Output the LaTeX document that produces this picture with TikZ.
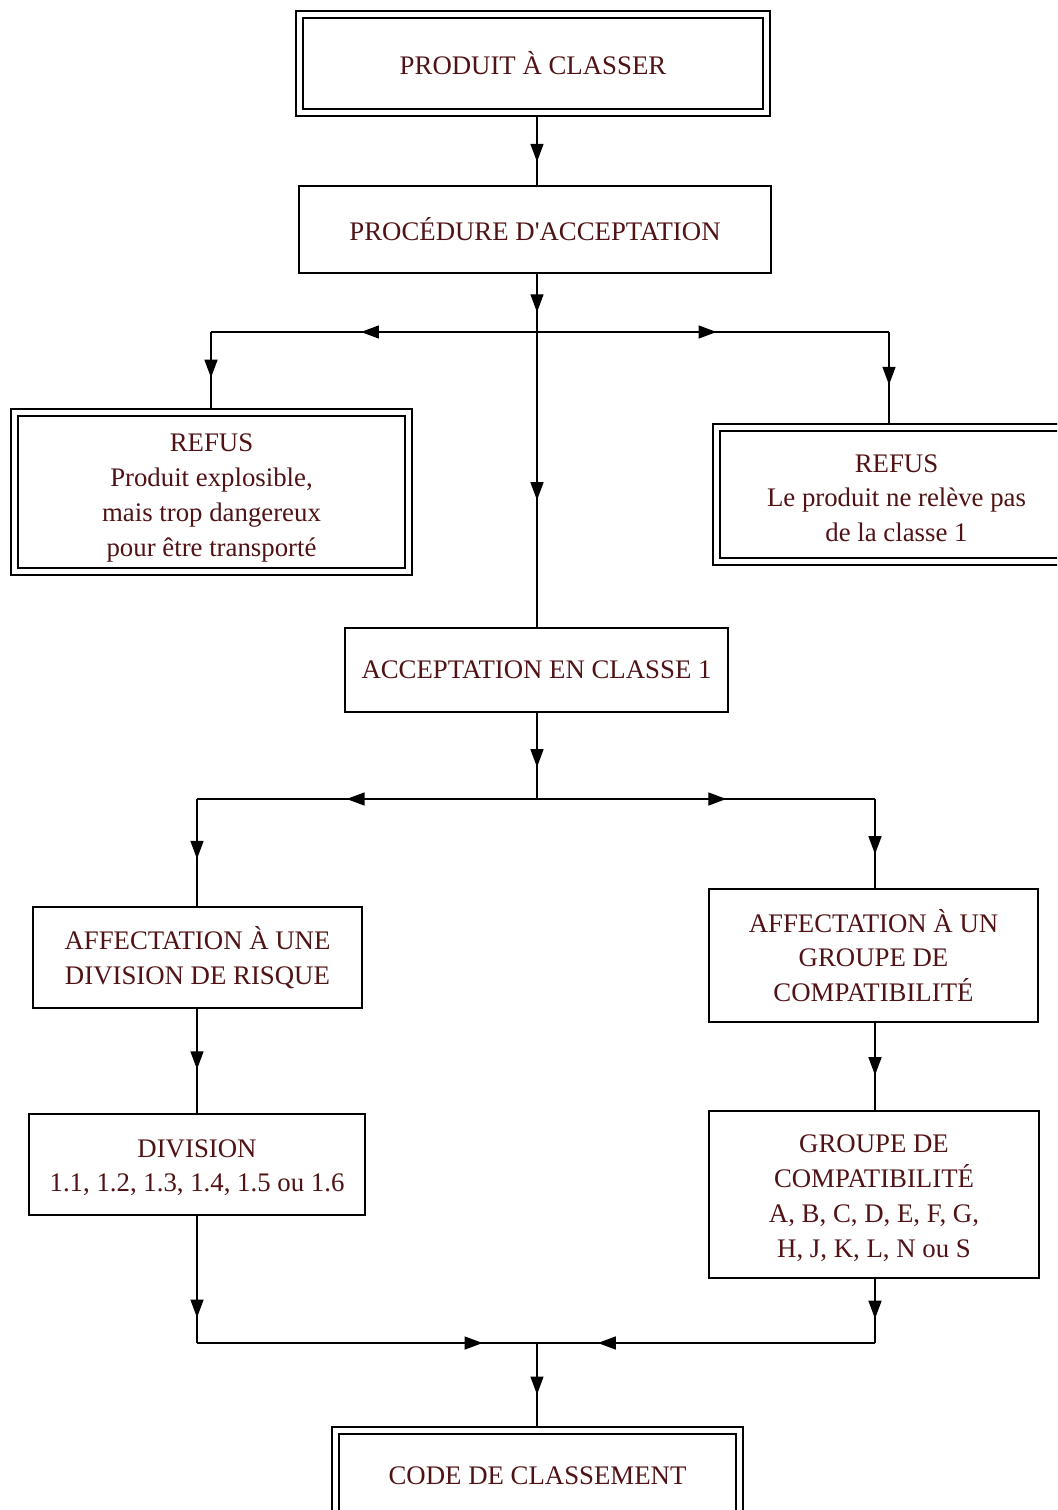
\documentclass[tikz,border=0pt]{standalone}
\usepackage{fontspec}
\setmainfont{Liberation Serif}
\usepackage{xcolor}
\usetikzlibrary{arrows.meta,positioning,fit,calc,decorations.markings}
\definecolor{txtbrown}{RGB}{80,18,20}

\begin{document}
\begin{tikzpicture}[
  x=0.5pt, y=-0.5pt,
  box/.style={draw, line width=1pt, align=center, inner sep=0pt,
    font=\fontsize{13.4}{17.4}\selectfont, text=txtbrown},
  inbox/.style={box, line width=1.4pt},
  outbox/.style={draw, line width=0.9pt, inner sep=2.8pt},
  conn/.style={line width=0.7pt},
  arr/.style={conn, postaction={decorate}, decoration={markings,
    mark=at position #1 with {\arrow{Triangle[length=9pt,width=6.5pt]}}}},
  arr/.default=0.6
]
\useasboundingbox (0,0) rectangle (1057,1510);
\clip (0,0) rectangle (1057,1510);

% boites
\node[inbox, minimum width=230pt, minimum height=45.5pt] (prod) at (533,63.5) {PRODUIT À CLASSER};
\node[outbox, fit=(prod)] (prod-o) {};
\node[box, minimum width=236pt, minimum height=43.5pt] (proc) at (535,229.5) {PROCÉDURE D\textquotesingle ACCEPTATION};
\node[inbox, minimum width=193.5pt, minimum height=76pt] (refusl) at (211.5,492)
  {\rule{0pt}{15pt}REFUS\\Produit explosible,\\mais trop dangereux\\pour être transporté};
\node[outbox, fit=(refusl)] (refusl-o) {};
\node[inbox, minimum width=176.5pt, minimum height=63.5pt] (refusr) at (896.5,494.5)
  {\rule{0pt}{12.5pt}REFUS\\Le produit ne relève pas\\de la classe 1};
\node[outbox, fit=(refusr)] (refusr-o) {};
\node[box, minimum width=191.5pt, minimum height=42pt] (acc) at (536.5,670) {ACCEPTATION EN CLASSE 1};
\node[box, minimum width=164.5pt, minimum height=50.5pt] (affdiv) at (197.5,957.5)
  {AFFECTATION À UNE\\DIVISION DE RISQUE};
\node[box, minimum width=168pt, minimum height=50.5pt] (div) at (197,1164.5)
  {\rule{0pt}{12pt}DIVISION\\1.1, 1.2, 1.3, 1.4, 1.5 ou 1.6};
\node[box, minimum width=164.5pt, minimum height=66.5pt] (affgrp) at (873.5,955.5)
  {AFFECTATION À UN\\GROUPE DE\\COMPATIBILITÉ};
\node[box, minimum width=165pt, minimum height=83.5pt] (grp) at (874,1194.5)
  {\rule{0pt}{12.5pt}GROUPE DE\\COMPATIBILITÉ\\A, B, C, D, E, F, G,\\H, J, K, L, N ou S};
\node[inbox, minimum width=198.5pt, minimum height=42pt] (code) at (537.5,1476) {CODE DE CLASSEMENT};
\node[outbox, fit=(code)] (code-o) {};

% points de jonction
\coordinate (j1) at (537,332);
\coordinate (j2) at (537,799);
\coordinate (j3) at (537,1343);
\coordinate (cl1) at (211,332);
\coordinate (cr1) at (889,332);
\coordinate (cl2) at (197,799);
\coordinate (cr2) at (875,799);
\coordinate (cl3) at (197,1343);
\coordinate (cr3) at (875,1343);

% liaisons
\draw[arr=0.66] (prod-o.south -| j1) -- (proc.north -| j1);
\draw[arr=0.66] (proc.south -| j1) -- (j1);
\draw[arr=0.54] (j1) -- (cl1);
\draw[arr=0.6] (cl1) -- (cl1 |- refusl-o.north);
\draw[arr=0.51] (j1) -- (cr1);
\draw[arr=0.58] (cr1) -- (cr1 |- refusr-o.north);
\draw[arr=0.57] (j1) -- (acc.north -| j1);
\draw[arr=0.63] (acc.south -| j2) -- (j2);
\draw[arr=0.56] (j2) -- (cl2);
\draw[arr=0.56] (cl2) -- (cl2 |- affdiv.north);
\draw[arr=0.56] (j2) -- (cr2);
\draw[arr=0.62] (cr2) -- (cr2 |- affgrp.north);
\draw[arr=0.58] (affdiv.south -| cl2) -- (div.north -| cl2);
\draw[arr=0.6] (affgrp.south -| cr2) -- (grp.north -| cr2);
\draw[arr=0.8] (div.south -| cl3) -- (cl3);
\draw[arr=0.84] (cl3) -- (j3);
\draw[arr=0.62] (grp.south -| cr3) -- (cr3);
\draw[arr=0.82] (cr3) -- (j3);
\draw[arr=0.62] (j3) -- (code-o.north -| j3);
\end{tikzpicture}
\end{document}
